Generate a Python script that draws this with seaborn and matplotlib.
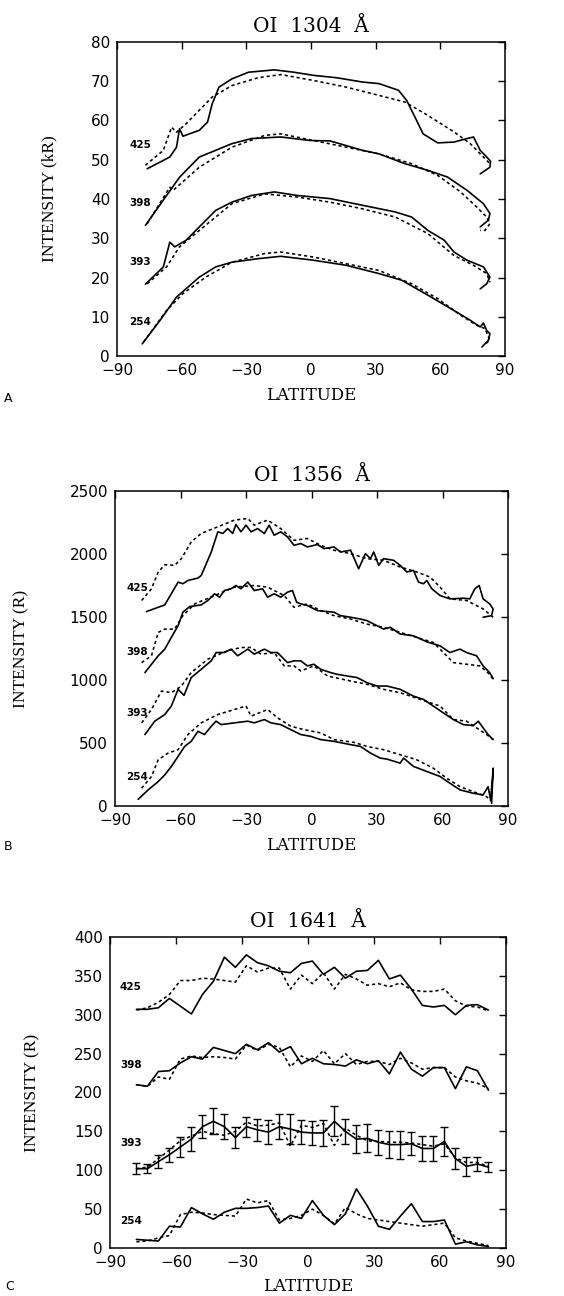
import matplotlib
matplotlib.use("Agg")
import matplotlib.pyplot as plt
import seaborn as sns
import pandas as pd
import numpy as np

# ---------------- Panel A : OI 1304 (kR) ----------------
A425_obs_lat = [-76, -65.5, -62.4, -61, -59.4, -51.8, -48, -45.8, -42.7, -36.7, -29, -17, -7.9, 1.2, 11.8, 23.9, 31.5, 40.6, 44.4, 48.2, 52, 58.8, 66.3, 72.4, 75.4, 78.5, 81.5, 83.3, 83, 78.5]
A425_obs_val = [47.7, 50.7, 53.2, 57.9, 56, 57.5, 59.6, 64.3, 68.5, 70.6, 72.3, 72.9, 72.3, 71.5, 70.9, 69.8, 69.4, 67.7, 65.1, 60.9, 56.6, 54.3, 54.5, 55.4, 55.8, 52.4, 50.7, 49.6, 48.1, 46.4]
A425_mod_lat = [-76.8, -68.5, -64.7, -62.4, -57.9, -45.8, -36.7, -24.5, -14, 1.2, 16.4, 31.5, 43.6, 54.2, 66.3, 73.9, 80, 83]
A425_mod_val = [48.6, 52.4, 58.3, 57, 59.2, 66, 68.9, 70.9, 71.7, 70.2, 68.5, 66.4, 64.7, 61.3, 57.1, 54.1, 50.7, 49]

A398_obs_lat = [-76.8, -67, -60.9, -51.8, -44.2, -36.7, -27.6, -14, -0.3, 8.8, 23.9, 31.5, 43.6, 54.2, 63.3, 72.4, 80, 83, 82.3, 78.5]
A398_obs_val = [33.3, 40.9, 45.6, 50.7, 52.4, 54.1, 55.4, 55.8, 54.9, 54.8, 52.4, 51.5, 49, 47.3, 45.6, 42.2, 38.8, 36.3, 34.6, 32.9]
A398_mod_lat = [-76, -65.5, -64, -51.8, -36.7, -21.5, -14, 1.2, 16.4, 31.5, 46.7, 58.8, 69.4, 77, 81.5, 83, 80.7, 78.5]
A398_mod_val = [33.7, 43, 42.2, 48.1, 53.2, 56.2, 56.6, 54.9, 53.2, 51.5, 49, 46, 41.8, 37.9, 35.4, 33.7, 32, 32]

A393_obs_lat = [-76.8, -68.5, -65.5, -63.2, -57.9, -51.8, -44.2, -36.7, -27.6, -17, -6.4, 1.2, 8.8, 23.9, 39.1, 46.7, 54.2, 61.8, 66.3, 72.4, 80, 83, 81.5, 78.5]
A393_obs_val = [18.3, 22.7, 29, 27.8, 29.5, 32.9, 37.1, 39.2, 40.9, 41.8, 40.9, 40.5, 40.1, 38.4, 36.7, 35.4, 32, 29.5, 26.5, 24.4, 22.7, 20.1, 18.4, 17.1]
A393_mod_lat = [-76, -67, -61, -51.8, -36.7, -21.5, -6.4, 8.8, 23.9, 39.1, 54.2, 66.3, 75.4, 81.5, 83]
A393_mod_val = [18.4, 22.7, 27.8, 32, 38.8, 41.3, 40.5, 39.2, 37.5, 35.4, 31.2, 25.6, 23.1, 21, 18.8]

A254_obs_lat = [-78.3, -70, -62.4, -51.8, -44.2, -36.7, -24.5, -14, 1.2, 16.4, 31.5, 42.1, 54.2, 66.3, 73.9, 78.5, 80, 81.5, 83, 82.3, 79.3]
A254_obs_val = [3.1, 9.1, 15, 20.1, 22.7, 23.9, 24.8, 25.4, 24.4, 23.1, 21, 19.3, 15.5, 11.6, 9.1, 7.4, 8.4, 6.5, 5.7, 4, 2.3]
A254_mod_lat = [-77.6, -67, -59.4, -48.8, -36.7, -21.5, -14, 1.2, 16.4, 31.5, 46.7, 58.8, 69.4, 77, 80.7, 83, 80]
A254_mod_val = [3.6, 11.6, 15.9, 20.1, 23.9, 26.1, 26.5, 25.2, 23.5, 21.8, 18.4, 14.6, 10.4, 7.8, 7, 4, 2.7]

# ---------------- Panel B : OI 1356 (R) ----------------
B425_obs_lat = [-75.6, -67.2, -61.1, -58.9, -56.6, -52, -50.5, -45.9, -42.9, -40.6, -38.4, -36.1, -34.6, -32.3, -30, -27.7, -24.7, -21.6, -19.4, -17.1, -14.1, -11, -8, -4.9, -1.9, 2.7, 5.7, 10.3, 13.3, 17.9, 21.6, 24.7, 27, 28.5, 30.8, 33, 37.6, 40.6, 43.7, 46.7, 49, 51.3, 52.8, 55.1, 58.9, 63.4, 69.5, 72.5, 74.8, 76.8, 78.6, 81.6, 83.2, 82.5, 78.6]
B425_obs_val = [1543, 1596, 1777, 1764, 1790, 1809, 1830, 2016, 2176, 2163, 2202, 2163, 2234, 2176, 2229, 2176, 2202, 2163, 2229, 2149, 2176, 2136, 2069, 2083, 2056, 2075, 2043, 2056, 2016, 2030, 1883, 2003, 1963, 2016, 1910, 1963, 1950, 1910, 1857, 1870, 1777, 1764, 1790, 1724, 1670, 1644, 1649, 1644, 1724, 1750, 1644, 1604, 1564, 1511, 1498]
B425_mod_lat = [-77.8, -73.3, -70.2, -67.2, -62.7, -59.6, -55.1, -50.5, -42.9, -35.3, -29.2, -26.2, -20.1, -14.1, -8, -1.9, 4.2, 10.3, 17.9, 25.4, 33, 40.6, 48.2, 54.3, 58.9, 63.4, 71, 78.6, 83.2]
B425_mod_val = [1631, 1724, 1857, 1915, 1910, 1963, 2096, 2163, 2216, 2269, 2282, 2229, 2269, 2202, 2109, 2123, 2069, 2030, 2003, 1963, 1950, 1897, 1857, 1817, 1737, 1644, 1631, 1564, 1498]

B398_obs_lat = [-76.3, -70.2, -67.2, -64.2, -61.1, -58.9, -55.8, -50.5, -47.5, -44.4, -42.1, -39.9, -36.8, -34.6, -32.3, -29.2, -26.2, -22.4, -20.1, -17.1, -14.1, -11, -8.7, -6.8, -4.9, -1.9, 2.7, 7.3, 10.3, 13.3, 17.9, 22.4, 25.4, 30, 33, 36.1, 40.6, 46.7, 52.8, 58.9, 63.4, 68, 71, 75.6, 78.6, 81.6, 83.2]
B398_obs_val = [1059, 1192, 1245, 1338, 1431, 1538, 1583, 1596, 1631, 1684, 1657, 1710, 1724, 1750, 1724, 1777, 1710, 1724, 1657, 1684, 1657, 1697, 1710, 1617, 1604, 1591, 1551, 1543, 1538, 1511, 1498, 1484, 1471, 1431, 1404, 1418, 1365, 1351, 1303, 1271, 1218, 1245, 1218, 1192, 1112, 1059, 1011]
B398_mod_lat = [-77.8, -73.3, -70.2, -67.2, -62.7, -58.9, -53.5, -44.4, -35.3, -26.2, -20.1, -12.5, -8, -1.9, 4.2, 10.3, 17.9, 25.4, 33, 40.6, 48.2, 55.8, 60.4, 65, 71, 77.1, 81.6, 83.2]
B398_mod_val = [1138, 1192, 1378, 1404, 1404, 1511, 1604, 1670, 1737, 1750, 1737, 1670, 1577, 1604, 1551, 1511, 1484, 1444, 1418, 1378, 1338, 1298, 1218, 1138, 1125, 1112, 1045, 1005]

B393_obs_lat = [-76.3, -71.8, -67.2, -64.2, -61.1, -58.4, -55.1, -50.5, -45.9, -43.7, -39.9, -36.8, -33.8, -29.2, -26.2, -21.6, -18.6, -15.6, -11, -8, -4.9, -1.9, 1.1, 4.2, 8.7, 11.8, 16.3, 20.9, 25.4, 30, 34.6, 40.6, 46.7, 51.3, 55.8, 60.4, 65, 69.5, 74.1, 76.4, 78.6, 80.9, 83.2]
B393_obs_val = [567, 673, 726, 793, 926, 878, 1019, 1085, 1152, 1218, 1218, 1245, 1192, 1245, 1205, 1245, 1218, 1218, 1138, 1152, 1152, 1112, 1125, 1085, 1059, 1045, 1032, 1019, 979, 952, 952, 926, 872, 846, 793, 739, 686, 646, 638, 673, 620, 567, 527]
B393_mod_lat = [-77.8, -73.3, -68.7, -64.2, -59.6, -55.1, -47.5, -38.4, -32.3, -27.7, -23.1, -17.1, -12.5, -8, -4.9, 1.1, 7.3, 17.9, 25.4, 33, 40.6, 49.8, 58.9, 65, 71, 75.6, 80.2, 83.2]
B393_mod_val = [660, 766, 912, 899, 952, 1059, 1165, 1232, 1258, 1258, 1205, 1218, 1112, 1112, 1072, 1112, 1032, 992, 966, 926, 899, 846, 793, 686, 673, 620, 567, 527]

B254_obs_lat = [-79.4, -74.8, -70.2, -67.2, -64.2, -61.1, -58.1, -55.1, -52, -49, -45.9, -43.7, -41.4, -35.3, -29.2, -26.2, -21.6, -18.6, -14.1, -9.5, -4.9, -0.4, 4.2, 10.3, 17.9, 22.4, 27, 31.5, 34.6, 40.6, 42.2, 46.7, 52.8, 58.9, 63.4, 68, 74.1, 78.6, 80.9, 82, 82.9, 83.2, 82.5]
B254_obs_val = [53, 128, 194, 247, 314, 394, 473, 513, 593, 567, 633, 673, 646, 660, 673, 660, 686, 660, 646, 606, 567, 553, 527, 513, 487, 473, 420, 380, 372, 340, 380, 314, 274, 234, 181, 128, 101, 88, 154, 48, 221, 300, 21]
B254_mod_lat = [-77.8, -73.3, -70.2, -65.7, -61.1, -56.6, -50.5, -42.9, -35.3, -30, -27.7, -20.1, -15.6, -9.5, -3.4, 4.2, 10.3, 19.4, 25.4, 33, 40.6, 48.2, 55.8, 61.9, 68, 74.1, 80.2, 82.5]
B254_mod_val = [141, 234, 367, 420, 447, 567, 660, 726, 766, 793, 713, 766, 700, 633, 606, 580, 527, 505, 473, 447, 407, 367, 300, 221, 154, 114, 74, 35]

# ---------------- Panel C : OI 1641 (R) ----------------
C_lat = [-78, -73, -68, -63, -58, -53, -48, -43, -38, -33, -28, -23, -18, -13, -8, -3, 2, 7, 12, 17, 22, 27, 32, 37, 42, 47, 52, 57, 62, 67, 72, 77, 82]
C425_obs = [307, 307, 309, 321, 311, 301, 326, 343, 374, 361, 377, 367, 363, 356, 354, 366, 369, 352, 361, 347, 356, 357, 370, 346, 351, 333, 312, 310, 312, 300, 312, 313, 306]
C425_mod = [306, 309, 316, 326, 344, 344, 347, 346, 344, 342, 363, 355, 360, 360, 333, 351, 340, 354, 333, 352, 346, 338, 340, 336, 341, 332, 330, 330, 333, 318, 311, 310, 305]
C398_obs = [210, 208, 227, 228, 238, 246, 243, 258, 254, 250, 262, 255, 264, 252, 259, 237, 244, 237, 236, 234, 242, 237, 241, 224, 252, 230, 221, 232, 232, 205, 233, 228, 203]
C398_mod = [210, 208, 220, 217, 243, 247, 245, 246, 245, 243, 261, 254, 262, 258, 233, 247, 240, 254, 237, 250, 236, 240, 240, 236, 244, 238, 230, 232, 232, 220, 215, 212, 205]
C393_obs = [102, 102, 111, 120, 130, 140, 156, 163, 156, 142, 156, 152, 149, 156, 153, 149, 148, 148, 163, 150, 140, 141, 136, 133, 133, 134, 128, 128, 137, 115, 105, 108, 104]
C393_err = [7, 6, 8, 9, 13, 15, 15, 17, 16, 13, 13, 14, 15, 16, 19, 15, 15, 17, 19, 16, 18, 18, 16, 17, 18, 15, 16, 16, 19, 14, 12, 9, 6]
C393_mod = [102, 104, 115, 126, 138, 144, 150, 147, 145, 150, 162, 157, 158, 161, 131, 158, 155, 160, 132, 154, 145, 138, 137, 136, 136, 135, 133, 131, 134, 116, 110, 110, 105]
C254_obs = [11, 10, 9, 28, 27, 52, 44, 37, 46, 51, 51, 52, 54, 32, 42, 38, 61, 42, 30, 44, 76, 54, 28, 24, 41, 57, 34, 34, 36, 5, 8, 4, 2]
C254_mod = [8, 9, 13, 16, 43, 46, 45, 43, 42, 41, 63, 58, 61, 36, 38, 42, 50, 42, 31, 52, 44, 38, 36, 34, 32, 30, 28, 30, 32, 13, 9, 6, 3]

ORBITS = ["425", "398", "393", "254"]
A_LABEL_Y = [53.8, 39, 24, 8.7]
B_LABEL_Y = [1730, 1222, 738, 230]
C_LABEL_Y = [336, 235, 135, 35]

sns.set_style("white")
plt.rcParams["font.family"] = ["DejaVu Sans"]
plt.rcParams["axes.unicode_minus"] = True
for key in ["text.color", "axes.labelcolor", "xtick.color", "ytick.color", "axes.edgecolor"]:
    plt.rcParams[key] = "black"

fig = plt.figure(figsize=(5.64, 12.96), dpi=100)
W, H = 564.0, 1296.0


def rect(l, t, r, b):
    return [l / W, 1 - b / H, (r - l) / W, (b - t) / H]


axA = fig.add_axes(rect(117, 42, 505, 356))
axB = fig.add_axes(rect(115, 491, 508, 806))
axC = fig.add_axes(rect(110, 937, 506, 1248))

SOLID_LW = 1.2
DOT_LW = 1.15
DOTS = (0, (2.0, 1.8))


def draw(ax, lat, val, dotted=False):
    df = pd.DataFrame({"lat": lat, "val": val})
    sns.lineplot(data=df, x="lat", y="val", ax=ax, sort=False, estimator=None,
                 color="black", lw=DOT_LW if dotted else SOLID_LW,
                 linestyle=DOTS if dotted else "-")


panelA = [(A425_obs_lat, A425_obs_val, A425_mod_lat, A425_mod_val),
          (A398_obs_lat, A398_obs_val, A398_mod_lat, A398_mod_val),
          (A393_obs_lat, A393_obs_val, A393_mod_lat, A393_mod_val),
          (A254_obs_lat, A254_obs_val, A254_mod_lat, A254_mod_val)]
for ol, ov, ml, mv in panelA:
    draw(axA, ml, mv, dotted=True)
    draw(axA, ol, ov)

panelB = [(B425_obs_lat, B425_obs_val, B425_mod_lat, B425_mod_val),
          (B398_obs_lat, B398_obs_val, B398_mod_lat, B398_mod_val),
          (B393_obs_lat, B393_obs_val, B393_mod_lat, B393_mod_val),
          (B254_obs_lat, B254_obs_val, B254_mod_lat, B254_mod_val)]
for ol, ov, ml, mv in panelB:
    draw(axB, ml, mv, dotted=True)
    draw(axB, ol, ov)

for obs, mod in [(C425_obs, C425_mod), (C398_obs, C398_mod),
                 (C393_obs, C393_mod), (C254_obs, C254_mod)]:
    draw(axC, C_lat, mod, dotted=True)
    draw(axC, C_lat, obs)
axC.errorbar(C_lat, C393_obs, yerr=C393_err, fmt="none", ecolor="black",
             elinewidth=1.0, capsize=3, capthick=1.0)

serif = "DejaVu Serif"

panels = [
    (axA, "OI  1304  Å", "INTENSITY (kR)", np.arange(0, 81, 10), (0, 80), A_LABEL_Y, -84.4, -0.173, "A", 8, 399),
    (axB, "OI  1356  Å", "INTENSITY (R)", np.arange(0, 2501, 500), (0, 2500), B_LABEL_Y, -84.7, -0.237, "B", 8, 846),
    (axC, "OI  1641  Å", "INTENSITY (R)", np.arange(0, 401, 50), (0, 400), C_LABEL_Y, -85.5, -0.197, "C", 10, 1287),
]

for ax, title, ylab, yt, ylim, laby, labx, ylx, letter, lx, ly in panels:
    ax.set_xlim(-90, 90)
    ax.set_ylim(*ylim)
    ax.set_xticks([-90, -60, -30, 0, 30, 60, 90])
    ax.set_yticks(yt)
    ax.tick_params(direction="in", length=5, width=1.0, top=True, right=True,
                   labelsize=11, pad=5, colors="black")
    for lab in ax.get_xticklabels() + ax.get_yticklabels():
        lab.set_family("DejaVu Sans")
    for sp in ax.spines.values():
        sp.set_visible(True)
        sp.set_linewidth(1.1)
        sp.set_color("black")
    ax.set_title(title, family=serif, fontsize=14.5, pad=7, color="black")
    ax.set_xlabel("LATITUDE", family=serif, fontsize=12, color="black")
    ax.xaxis.set_label_coords(0.5, -0.125)
    ax.xaxis.label.set_verticalalignment("center")
    ax.set_ylabel(ylab, family="Liberation Serif", fontsize=12.5, color="black")
    ax.yaxis.set_label_coords(ylx, 0.5)
    ax.yaxis.label.set_verticalalignment("center")
    for name, yv in zip(ORBITS, laby):
        ax.text(labx, yv, name, ha="left", va="center", fontsize=7.5,
                fontweight="bold", family="DejaVu Sans", color="black")
    fig.text(lx / W, 1 - ly / H, letter, ha="center", va="center",
             fontsize=9, family="DejaVu Sans", color="black")

fig.savefig("out.png", dpi=100, facecolor="white")
